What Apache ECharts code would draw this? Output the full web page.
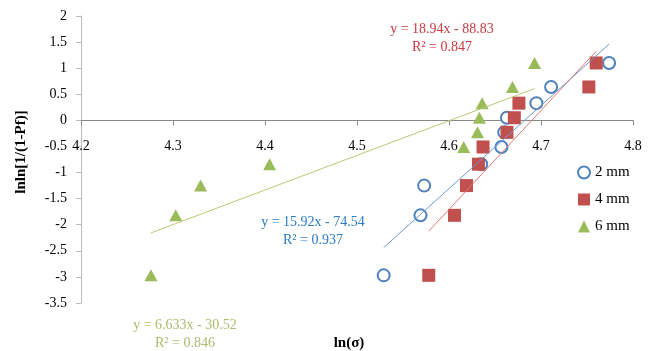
<!DOCTYPE html>
<html><head><meta charset="utf-8">
<script src="https://cdn.jsdelivr.net/npm/echarts@6/dist/echarts.min.js"></script>
<style>html,body{margin:0;padding:0;background:#fff}#c{width:653px;height:351px}</style>
</head><body><div id="c"></div>
<script>
// Data
const yValues = [-2.97, -1.82, -1.25, -0.84, -0.51, -0.23, 0.05, 0.33, 0.64, 1.10];
const x2mm = [4.529, 4.569, 4.573, 4.635, 4.657, 4.660, 4.663, 4.695, 4.711, 4.774];
const x4mm = [4.578, 4.606, 4.619, 4.632, 4.637, 4.663, 4.671, 4.676, 4.752, 4.760];
const x6mm = [4.276, 4.303, 4.330, 4.405, 4.616, 4.631, 4.633, 4.636, 4.669, 4.693];
const seriesNames = ['2 mm', '4 mm', '6 mm'];
// trendline equations y = a*x + b
const slope = [15.92, 18.94, 6.633];
const intercept = [-74.54, -88.83, -30.52];
const eqText = ['y = 15.92x - 74.54', 'y = 18.94x - 88.83', 'y = 6.633x - 30.52'];
const r2Text = ['R² = 0.937', 'R² = 0.847', 'R² = 0.846'];
const xTicks = {min: 4.2, max: 4.8, interval: 0.1};
const yTicks = {min: -3.5, max: 2, interval: 0.5};

const colors = ['#4F81BD', '#C0504D', '#9BBB59'];
const lineColors = ['#6F9AD0', '#E07A78', '#B7CB72'];
const textColors = ['#2A7CC4', '#C9383F', '#A9BC6E'];
const xs = [x2mm, x4mm, x6mm];
const symbols = ['emptyCircle', 'rect', 'triangle'];
const FONT = '"Liberation Serif", "Times New Roman", serif';

const GRID = {left: 81, right: 20, top: 16, bottom: 48};
const H = 351;
const gridH = H - GRID.top - GRID.bottom;
// x axis crosses the y axis at zero
const xAxisOffset = -gridH * (0 - yTicks.min) / (yTicks.max - yTicks.min);

const series = [];
xs.forEach((arr, i) => {
  series.push({
    name: seriesNames[i], type: 'scatter', z: 3 + i,
    symbol: symbols[i], symbolSize: i === 0 ? 12 : (i === 1 ? 13 : [13, 12]),
    itemStyle: i === 0 ? {color: colors[i], borderColor: colors[i], borderWidth: 1, opacity: 1} : {color: colors[i], opacity: 1},
    data: arr.map((x, k) => [x, yValues[k]])
  });
});
xs.forEach((arr, i) => {
  const lo = Math.min(...arr), hi = Math.max(...arr);
  series.push({
    type: 'line', z: 10, symbol: 'none', silent: true,
    lineStyle: {color: lineColors[i], width: 1},
    data: [[lo, slope[i] * lo + intercept[i]], [hi, slope[i] * hi + intercept[i]]]
  });
});

const eqPos = [[313, 222], [442, 29], [185, 325]];
const graphics = [];
eqPos.forEach((p, i) => {
  graphics.push({type: 'text', x: p[0], y: p[1], style: {text: eqText[i], fill: textColors[i], font: '14px ' + FONT, textAlign: 'center', textVerticalAlign: 'middle'}});
  graphics.push({type: 'text', x: p[0], y: p[1] + 18, style: {text: r2Text[i], fill: textColors[i], font: '14px ' + FONT, textAlign: 'center', textVerticalAlign: 'middle'}});
});
graphics.push({type: 'text', x: 349, y: 343, style: {text: 'ln(σ)', fill: '#000', font: 'bold 15px ' + FONT, textAlign: 'center', textVerticalAlign: 'middle'}});
graphics.push({type: 'text', x: 21, y: 152, rotation: Math.PI / 2, style: {text: 'lnln[1/(1-Pf)]', fill: '#000', font: 'bold 15px ' + FONT, textAlign: 'center', textVerticalAlign: 'middle'}});

const chart = echarts.init(document.getElementById('c'), null, {renderer: 'canvas'});
chart.setOption({
  animation: false,
  backgroundColor: '#fff',
  grid: GRID,
  legend: {
    data: seriesNames, orient: 'vertical', left: 577, top: 165, padding: 0,
    itemWidth: 12, itemHeight: 12, itemGap: 12,
    textStyle: {fontFamily: FONT, fontSize: 15, color: '#000'}
  },
  xAxis: {
    type: 'value', min: xTicks.min, max: xTicks.max, interval: xTicks.interval,
    position: 'bottom', offset: xAxisOffset,
    axisLine: {onZero: false, lineStyle: {color: '#888'}},
    axisTick: {show: true, length: 5, lineStyle: {color: '#888'}},
    splitLine: {show: false},
    axisLabel: {fontFamily: FONT, fontSize: 14, color: '#000', margin: 19, formatter: v => v.toFixed(1)}
  },
  yAxis: {
    type: 'value', min: yTicks.min, max: yTicks.max, interval: yTicks.interval,
    axisLine: {show: true, onZero: false, lineStyle: {color: '#bbb'}},
    axisTick: {show: true, length: 5, lineStyle: {color: '#bbb'}},
    splitLine: {show: false},
    axisLabel: {fontFamily: FONT, fontSize: 14, color: '#000', margin: 14}
  },
  graphic: graphics,
  series: series
});
</script></body></html>
